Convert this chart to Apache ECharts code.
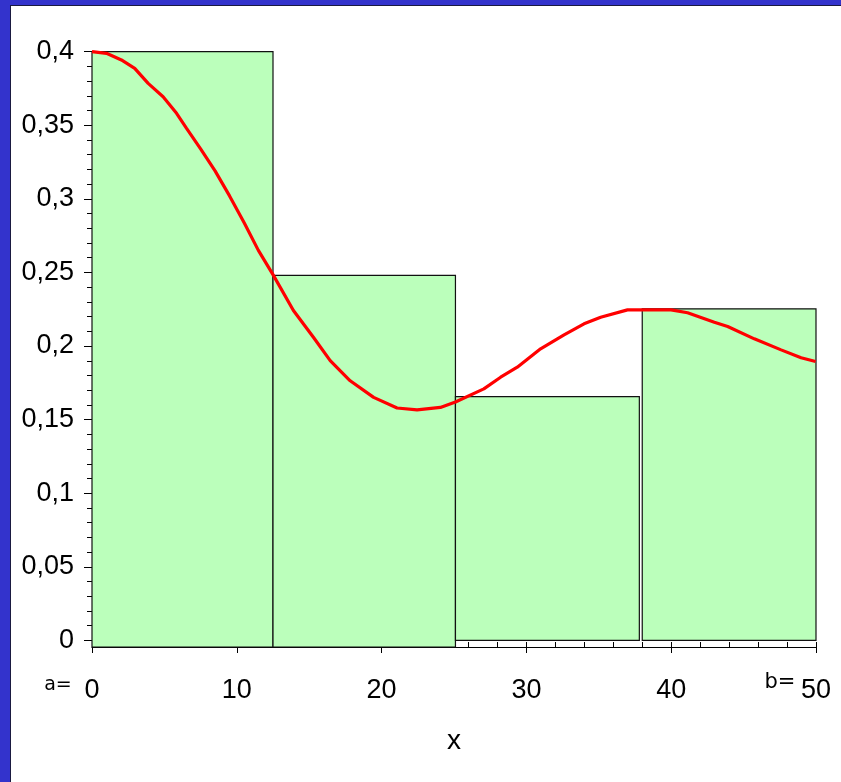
<!DOCTYPE html>
<html>
<head>
<meta charset="utf-8">
<script src="https://cdn.jsdelivr.net/npm/echarts@6/dist/echarts.min.js"></script>
<style>
  html, body { margin: 0; padding: 0; width: 841px; height: 782px; overflow: hidden; background: #3333cc; }
  #chart { position: absolute; left: 10px; top: 5px; width: 831px; height: 777px; background: #ffffff;
           border-left: 1px solid #1a1a40; border-top: 1px solid #1a1a40; box-sizing: border-box; }
</style>
</head>
<body>
<div id="chart"></div>
<script>
// Histogram bins: left edge, right edge, height, bottom
const binStart  = [0, 12.5, 25.1, 38.0];
const binEnd    = [12.5, 25.1, 37.8, 50];
const binHeight = [0.4, 0.248, 0.1656, 0.2253];
const binBase   = [-0.0045, -0.0045, 0.0, 0.0];

// Density curve samples
const curveX = [0, 1.0, 2.03, 2.95, 3.88, 4.91, 5.84, 6.53, 7.5, 8.5, 9.5, 10.5, 11.49, 12.53,
  13.91, 15.29, 16.45, 17.83, 19.45, 21.07, 22.45, 24.06, 25.1, 27.06, 28.22, 29.37, 30.98,
  32.6, 33.98, 35.13, 36.98, 39.99, 41.13, 42.98, 43.9, 45.74, 47.59, 48.97, 49.97];
const curveY = [0.4, 0.3989, 0.3944, 0.3887, 0.3785, 0.3694, 0.3581, 0.3479, 0.334, 0.319, 0.302,
  0.284, 0.265, 0.248, 0.2242, 0.206, 0.1901, 0.1764, 0.1651, 0.1579, 0.1566, 0.1583, 0.162,
  0.1709, 0.1788, 0.1856, 0.1981, 0.2076, 0.2151, 0.2196, 0.2246, 0.2246, 0.2226, 0.2162,
  0.2133, 0.2049, 0.1974, 0.192, 0.1895];

// Axis ticks and labels
const yLabelValues = [0, 0.05, 0.1, 0.15, 0.2, 0.25, 0.3, 0.35, 0.4];
const yMinorValues = [0, 0.01, 0.02, 0.03, 0.04, 0.05, 0.06, 0.07, 0.08, 0.09, 0.1, 0.11, 0.12, 0.13,
  0.14, 0.15, 0.16, 0.17, 0.18, 0.19, 0.2, 0.21, 0.22, 0.23, 0.24, 0.25, 0.26, 0.27, 0.28, 0.29,
  0.3, 0.31, 0.32, 0.33, 0.34, 0.35, 0.36, 0.37, 0.38, 0.39, 0.4];
const xLabelValues = [0, 10, 20, 30, 40, 50];
const xMinorValues = [0, 2, 4, 6, 8, 10, 12, 14, 16, 18, 20, 22, 24, 26, 28, 30, 32, 34, 36, 38,
  40, 42, 44, 46, 48, 50];
const xName = 'x';
const leftEndText = 'a=';
const rightEndText = 'b=';

const labelFont = 'Liberation Sans, Arial, sans-serif';
const fmtComma = v => String(Math.round(v * 1000) / 1000).replace('.', ',');

const binData = binStart.map((s, i) => [s, binEnd[i], binHeight[i], binBase[i]]);
const curveData = curveX.map((x, i) => [x, curveY[i]]);

const chart = echarts.init(document.getElementById('chart'), null, { renderer: 'canvas' });

const grid = { left: 81, top: 45.7, right: 25, bottom: 135 };

chart.setOption({
  animation: false,
  backgroundColor: '#ffffff',
  grid: grid,
  xAxis: [
    {
      type: 'value', min: 0, max: 50, position: 'bottom',
      axisLine: { onZero: false, lineStyle: { color: '#000', width: 1 } },
      axisTick: { customValues: xLabelValues, length: 6, lineStyle: { color: '#000' } },
      axisLabel: { customValues: xLabelValues, margin: 30, fontSize: 27, color: '#000', fontFamily: labelFont },
      splitLine: { show: false },
      name: xName, nameLocation: 'middle', nameGap: 80,
      nameTextStyle: { fontSize: 28, color: '#000', fontFamily: labelFont }
    },
    {
      type: 'value', min: 0, max: 50, position: 'bottom',
      axisLine: { show: false, onZero: false },
      axisTick: { customValues: xMinorValues, inside: true, length: 5, lineStyle: { color: '#000' } },
      axisLabel: { show: false },
      splitLine: { show: false }
    }
  ],
  yAxis: [
    {
      type: 'value', min: -0.0045, max: 0.4, position: 'left',
      axisLine: { show: true, onZero: false, lineStyle: { color: '#000', width: 1 } },
      axisTick: { customValues: yLabelValues, length: 8, lineStyle: { color: '#000' } },
      axisLabel: { customValues: yLabelValues, margin: 18, fontSize: 27, color: '#000',
                   fontFamily: labelFont, formatter: fmtComma },
      splitLine: { show: false }
    },
    {
      type: 'value', min: -0.0045, max: 0.4, position: 'left',
      axisLine: { show: false, onZero: false },
      axisTick: { customValues: yMinorValues, length: 5, lineStyle: { color: '#000' } },
      axisLabel: { show: false },
      splitLine: { show: false }
    }
  ],
  series: [
    {
      type: 'custom',
      xAxisIndex: 0, yAxisIndex: 0,
      data: binData,
      renderItem: function (params, api) {
        const p0 = api.coord([api.value(0), api.value(2)]);
        const p1 = api.coord([api.value(1), api.value(3)]);
        return {
          type: 'rect',
          shape: { x: p0[0], y: p0[1], width: p1[0] - p0[0], height: p1[1] - p0[1] },
          style: { fill: '#bbffbb', stroke: '#111111', lineWidth: 1.2 }
        };
      },
      z: 2
    },
    {
      type: 'line',
      xAxisIndex: 0, yAxisIndex: 0,
      data: curveData,
      showSymbol: false, symbol: 'none',
      smooth: false,
      lineStyle: { color: '#ff0000', width: 3.2 },
      z: 3
    }
  ]
});

// Interval end markers next to the first and last x labels
const px0 = chart.convertToPixel({ xAxisIndex: 0 }, 0);
const px50 = chart.convertToPixel({ xAxisIndex: 0 }, 50);
const yBase = chart.convertToPixel({ yAxisIndex: 0 }, -0.0045);
chart.setOption({
  graphic: [
    { type: 'text', x: px0 - 34, y: yBase + 38, style: { text: leftEndText, fontSize: 19,
      fontFamily: 'DejaVu Sans, sans-serif', fill: '#000', align: 'center', verticalAlign: 'middle' } },
    { type: 'text', x: px50 - 36, y: yBase + 36, style: { text: rightEndText, fontSize: 21,
      fontFamily: 'DejaVu Sans, sans-serif', fill: '#000', align: 'center', verticalAlign: 'middle' } }
  ]
});
</script>
</body>
</html>
